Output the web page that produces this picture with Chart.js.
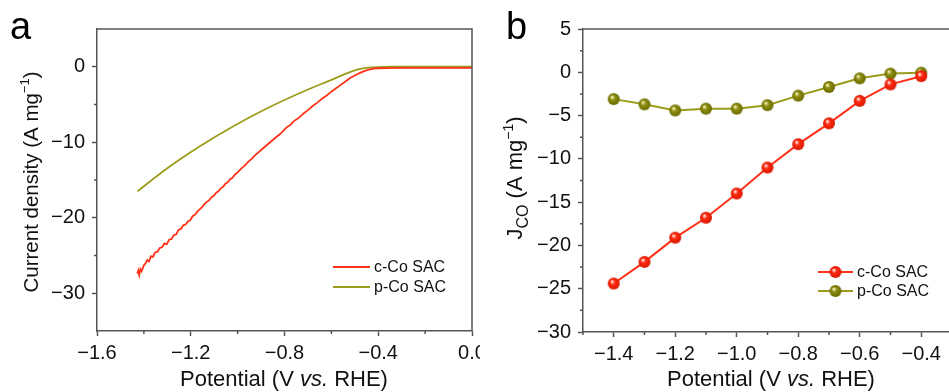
<!DOCTYPE html>
<html>
<head>
<meta charset="utf-8">
<script src="https://cdn.jsdelivr.net/npm/chart.js@4/dist/chart.umd.min.js"></script>
<style>
  html, body { margin: 0; padding: 0; background: #fff; width: 949px; height: 392px; overflow: hidden; }
  .panel { position: absolute; top: 0; height: 392px; overflow: hidden; }
  #pa { left: 0; width: 480px; }
  #pb { left: 480px; width: 480px; }
</style>
</head>
<body>
<div class="panel" id="pa"><canvas id="ca" width="480" height="392"></canvas></div>
<div class="panel" id="pb"><canvas id="cb" width="480" height="392"></canvas></div>
<script>
// ---------------- DATA ----------------
// Panel a: LSV curves, potential (V vs. RHE) and current density (A mg-1)
const potA_c = [-1.428,-1.424,-1.420,-1.415,-1.410,-1.400,-1.392,-1.385,-1.378,-1.370,-1.362,-1.352,-1.342,-1.332,-1.322,-1.312,-1.302,-1.292,-1.282,-1.272,-1.262,-1.252,-1.242,-1.232,-1.222,-1.212,-1.202,-1.192,-1.182,-1.172,-1.162,-1.152,-1.142,-1.132,-1.122,-1.112,-1.102,-1.092,-1.082,-1.072,-1.062,-1.052,-1.042,-1.032,-1.022,-1.012,-1.000,-0.985,-0.970,-0.955,-0.940,-0.925,-0.910,-0.895,-0.880,-0.865,-0.850,-0.835,-0.820,-0.805,-0.790,-0.775,-0.760,-0.745,-0.730,-0.715,-0.700,-0.680,-0.660,-0.640,-0.620,-0.600,-0.580,-0.560,-0.540,-0.520,-0.500,-0.480,-0.460,-0.440,-0.420,-0.400,-0.370,-0.300,-0.200,-0.100,0.000];
const curA_c = [-27.4,-27.0,-27.6,-26.8,-27.1,-26.3,-26.0,-25.6,-25.8,-25.1,-25.2,-24.6,-24.5,-24.0,-23.9,-23.4,-23.5,-22.9,-22.8,-22.3,-22.2,-21.6,-21.5,-21.0,-20.9,-20.5,-20.3,-19.8,-19.6,-19.2,-18.9,-18.6,-18.2,-17.9,-17.7,-17.3,-17.1,-16.7,-16.5,-16.1,-15.9,-15.5,-15.3,-14.9,-14.7,-14.3,-14.0,-13.5,-13.1,-12.6,-12.2,-11.7,-11.3,-10.9,-10.5,-10.1,-9.7,-9.3,-8.95,-8.5,-8.0,-7.7,-7.2,-6.9,-6.5,-6.1,-5.75,-5.2,-4.75,-4.25,-3.8,-3.3,-2.85,-2.4,-1.95,-1.5,-1.15,-0.85,-0.58,-0.38,-0.26,-0.2,-0.17,-0.15,-0.15,-0.15,-0.15];
const potA_p = [-1.428,-1.303,-1.161,-1.018,-0.876,-0.734,-0.592,-0.550,-0.521,-0.490,-0.449,-0.400,-0.350,-0.200,0.000];
const curA_p = [-16.5,-13.5,-10.52,-7.87,-5.53,-3.47,-1.63,-1.08,-0.70,-0.38,-0.15,-0.04,0,0,0];

// Panel b: CO partial current density
const potB = [-1.4,-1.3,-1.2,-1.1,-1.0,-0.9,-0.8,-0.7,-0.6,-0.5,-0.4];
const jcoC = [-24.4,-21.9,-19.1,-16.8,-14.0,-11.0,-8.3,-5.9,-3.3,-1.4,-0.45];
const jcoP = [-3.1,-3.7,-4.4,-4.2,-4.2,-3.8,-2.7,-1.7,-0.7,-0.15,-0.05];

// Series names
const seriesNames = ['c-Co SAC', 'p-Co SAC'];

// Tick labels / positions
const xMajorA = [-1.6,-1.2,-0.8,-0.4,0.0];
const xMinorA = [-1.4,-1.0,-0.6,-0.2];
const yMajorA = [-30,-20,-10,0];
const yMinorA = [-25,-15,-5];
const xMajorB = [-1.4,-1.2,-1.0,-0.8,-0.6,-0.4];
const xMinorB = [-1.5,-1.3,-1.1,-0.9,-0.7,-0.5,-0.3];
const yMajorB = [-30,-25,-20,-15,-10,-5,0,5];
const yMinorB = [-27.5,-22.5,-17.5,-12.5,-7.5,-2.5,2.5];

// ---------------- STYLE ----------------
const RED = '#ff3219';
const OLIVE = '#9c9c1c';
const AXIS = '#555555';
const FONT = "'Liberation Sans', Arial, sans-serif";
Chart.defaults.font.family = FONT;
Chart.defaults.color = '#111';

function fmt(dec) {
  return function(v) {
    const s = Number(v).toFixed(dec);
    return (Math.abs(v) < 1e-9 ? (0).toFixed(dec) : s).replace('-', '\u2212');
  };
}

function sphere(base, light, dark, r) {
  const c = document.createElement('canvas');
  const s = Math.ceil(r * 2 + 2);
  c.width = s; c.height = s;
  const g = c.getContext('2d');
  const cx = s / 2, cy = s / 2;
  const grad = g.createRadialGradient(cx - r * 0.3, cy - r * 0.35, r * 0.1, cx, cy, r);
  grad.addColorStop(0, light);
  grad.addColorStop(0.35, base);
  grad.addColorStop(1, dark);
  g.beginPath(); g.arc(cx, cy, r, 0, Math.PI * 2);
  g.fillStyle = grad; g.fill();
  return c;
}
const ballRed = sphere('#ff2a12', '#ffe0d8', '#d81800', 6);
const ballOlive = sphere('#8e8e12', '#efefb0', '#6a6a00', 6);

function xScale(min, max, majors, fixedH) {
  return {
    type: 'linear', min: min, max: max,
    afterBuildTicks: s => { s.ticks = majors.map(v => ({ value: v })); },
    afterFit: s => { s.height = fixedH; s.paddingLeft = 0; s.paddingRight = 0; },
    ticks: { font: { size: 20 }, color: '#111', padding: 5, maxRotation: 0, autoSkip: false, callback: fmt(1) },
    grid: { drawOnChartArea: false, drawTicks: true, tickLength: 5, tickColor: AXIS, tickWidth: 1.5 },
    border: { display: true, color: AXIS, width: 1.5 },
    title: { display: false }
  };
}
function yScale(min, max, majors, fixedW) {
  return {
    type: 'linear', min: min, max: max,
    afterBuildTicks: s => { s.ticks = majors.map(v => ({ value: v })); },
    afterFit: s => { s.width = fixedW; s.paddingTop = 0; s.paddingBottom = 0; },
    ticks: { font: { size: 20 }, color: '#111', padding: 7, autoSkip: false, callback: fmt(0) },
    grid: { drawOnChartArea: false, drawTicks: true, tickLength: 5, tickColor: AXIS, tickWidth: 1.5 },
    border: { display: true, color: AXIS, width: 1.5 },
    title: { display: false }
  };
}

// plugin: frame (top/right), minor ticks, titles, legend, panel letter
function decorPlugin(opt) {
  return {
    id: 'decor' + opt.letter,
    afterDraw(chart) {
      const ctx = chart.ctx;
      const a = chart.chartArea;
      const xs = chart.scales.x, ys = chart.scales.y;
      ctx.save();
      // frame top & right
      ctx.strokeStyle = AXIS; ctx.lineWidth = 1.5;
      ctx.beginPath();
      ctx.moveTo(a.left, a.top); ctx.lineTo(a.right, a.top); ctx.lineTo(a.right, a.bottom);
      ctx.stroke();
      // minor ticks
      ctx.lineWidth = 1.5;
      ctx.beginPath();
      opt.xMinor.forEach(v => {
        const px = xs.getPixelForValue(v);
        ctx.moveTo(px, a.bottom); ctx.lineTo(px, a.bottom + 3);
      });
      opt.yMinor.forEach(v => {
        const py = ys.getPixelForValue(v);
        ctx.moveTo(a.left, py); ctx.lineTo(a.left - 3, py);
      });
      ctx.stroke();

      ctx.fillStyle = '#111';
      // x title: "Potential (V vs. RHE)" with italic vs.
      const parts = [
        { t: 'Potential (V ', f: '22px ' + FONT },
        { t: 'vs.', f: 'italic 22px ' + FONT },
        { t: ' RHE)', f: '22px ' + FONT }
      ];
      let tw = 0;
      parts.forEach(p => { ctx.font = p.f; p.w = ctx.measureText(p.t).width; tw += p.w; });
      let x0 = opt.xTitleCX - tw / 2;
      ctx.textBaseline = 'alphabetic'; ctx.textAlign = 'left';
      parts.forEach(p => { ctx.font = p.f; ctx.fillText(p.t, x0, opt.xTitleY); x0 += p.w; });

      // y title (rotated)
      ctx.save();
      ctx.translate(opt.yTitleX, opt.yTitleCY);
      ctx.rotate(-Math.PI / 2);
      let ytw = 0;
      opt.yParts.forEach(p => { ctx.font = p.f; p.w = ctx.measureText(p.t).width; ytw += p.w; });
      let yx = -ytw / 2;
      opt.yParts.forEach(p => { ctx.font = p.f; ctx.fillText(p.t, yx, p.dy || 0); yx += p.w; });
      ctx.restore();

      // panel letter
      ctx.font = '38px ' + FONT;
      ctx.fillStyle = '#000';
      ctx.fillText(opt.letter, opt.letterX, 39);

      // legend
      ctx.font = '16px ' + FONT;
      ctx.textBaseline = 'middle';
      ctx.fillStyle = '#111';
      opt.legend.forEach(L => {
        ctx.strokeStyle = L.color; ctx.lineWidth = 2;
        ctx.beginPath(); ctx.moveTo(L.x1, L.y); ctx.lineTo(L.x2, L.y); ctx.stroke();
        if (L.ball) ctx.drawImage(L.ball, (L.x1 + L.x2) / 2 - L.ball.width / 2, L.y - L.ball.height / 2);
        ctx.fillText(L.label, L.x2 + 4, L.y + 1);
      });
      ctx.restore();
    }
  };
}

// ---------------- PANEL A ----------------
new Chart(document.getElementById('ca'), {
  type: 'scatter',
  data: {
    datasets: [
      { label: seriesNames[0], data: potA_c.map((v, i) => ({ x: v, y: curA_c[i] })), showLine: true,
        borderColor: RED, borderWidth: 1.8, pointRadius: 0, tension: 0 },
      { label: seriesNames[1], data: potA_p.map((v, i) => ({ x: v, y: curA_p[i] })), showLine: true,
        borderColor: OLIVE, borderWidth: 1.8, pointRadius: 0, cubicInterpolationMode: 'monotone' }
    ]
  },
  options: {
    responsive: false, animation: false, devicePixelRatio: 1,
    layout: { padding: { top: 29, right: 8, left: 0, bottom: 0 } },
    plugins: { legend: { display: false }, tooltip: { enabled: false } },
    scales: { x: xScale(-1.6, 0, xMajorA, 61), y: yScale(-35, 5, yMajorA, 97) }
  },
  plugins: [decorPlugin({
    letter: 'a', letterX: 10,
    xMinor: xMinorA, yMinor: yMinorA,
    xTitleY: 386, xTitleCX: 284,
    yTitleX: 38, yTitleCY: 182,
    yParts: [
      { t: 'Current density (A mg', f: '20.5px ' + FONT },
      { t: '\u22121', f: '13px ' + FONT, dy: -9 },
      { t: ')', f: '20.5px ' + FONT }
    ],
    legend: [
      { x1: 333, x2: 370, y: 267, color: RED, label: seriesNames[0] },
      { x1: 333, x2: 370, y: 287, color: OLIVE, label: seriesNames[1] }
    ]
  })]
});

// ---------------- PANEL B ----------------
new Chart(document.getElementById('cb'), {
  type: 'scatter',
  data: {
    datasets: [
      { label: seriesNames[0], data: potB.map((v, i) => ({ x: v, y: jcoC[i] })), showLine: true,
        borderColor: RED, borderWidth: 2, pointStyle: ballRed, pointRadius: 6, tension: 0 },
      { label: seriesNames[1], data: potB.map((v, i) => ({ x: v, y: jcoP[i] })), showLine: true,
        borderColor: OLIVE, borderWidth: 2, pointStyle: ballOlive, pointRadius: 6, tension: 0 }
    ]
  },
  options: {
    responsive: false, animation: false, devicePixelRatio: 1,
    layout: { padding: { top: 29, right: 2, left: 0, bottom: 0 } },
    plugins: { legend: { display: false }, tooltip: { enabled: false } },
    clip: false,
    scales: { x: xScale(-1.5, -0.3, xMajorB, 60), y: yScale(-30, 5, yMajorB, 103) }
  },
  plugins: [decorPlugin({
    letter: 'b', letterX: 26,
    xMinor: xMinorB, yMinor: yMinorB,
    xTitleY: 386, xTitleCX: 771 - 480,
    yTitleX: 41.5, yTitleCY: 178,
    yParts: [
      { t: 'J', f: '22px ' + FONT },
      { t: 'CO', f: '16px ' + FONT, dy: 6 },
      { t: ' (A mg', f: '22px ' + FONT },
      { t: '\u22121', f: '14px ' + FONT, dy: -9 },
      { t: ')', f: '22px ' + FONT }
    ],
    legend: [
      { x1: 818, x2: 853, y: 272, color: RED, label: seriesNames[0], ball: ballRed },
      { x1: 818, x2: 853, y: 291, color: OLIVE, label: seriesNames[1], ball: ballOlive }
    ].map(L => Object.assign(L, { x1: L.x1 - 480, x2: L.x2 - 480 }))
  })]
});
</script>
</body>
</html>
